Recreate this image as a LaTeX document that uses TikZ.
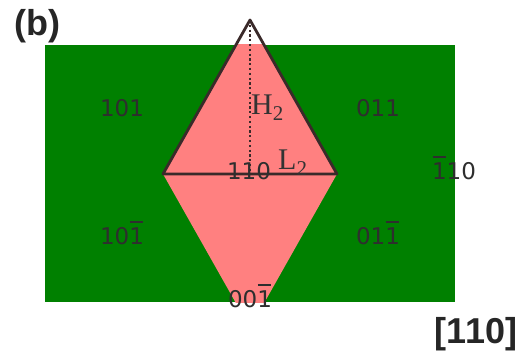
\documentclass[tikz,border=0pt]{standalone}
\usepackage{fontspec}
\setmainfont{Liberation Serif}
\newfontfamily\millerfont{DejaVu Sans}
\newfontfamily\panelfont{Liberation Sans}
\newcommand{\nbar}[1]{\ooalign{#1\cr\hidewidth\rule[0.97em]{0.58em}{0.07em}\hidewidth\cr}}
\definecolor{facegreen}{HTML}{008000}
\definecolor{facepink}{HTML}{FF8080}
\definecolor{edgedark}{HTML}{3A2A2A}

\begin{document}
\begin{tikzpicture}[x=1pt, y=-1pt,
    miller/.style={font=\millerfont\fontsize{23}{23}\selectfont, text=black!82, anchor=base, inner sep=0pt},
    panel/.style={font=\panelfont\bfseries\fontsize{36}{36}\selectfont, text=black!85, anchor=base, inner sep=0pt},
    length/.style={font=\fontsize{30}{30}\selectfont, text=black!80, anchor=base west, inner sep=0pt}]
    \useasboundingbox (0,0) rectangle (525,358);

    % corners of the facet
    \coordinate (apex) at (250,20);
    \coordinate (left) at (163,174);
    \coordinate (right) at (337,174);
    \coordinate (bottom) at (250,328);
    \coordinate (foot) at (250,174);

    % green face with the pink facet inside it
    \fill[facegreen] (45,45) rectangle (455,302);
    \begin{scope}
        \clip (45,45) rectangle (455,302);
        \fill[facepink] (apex) -- (left) -- (bottom) -- (right) -- cycle;
    \end{scope}

    % outline and height of the upper triangle
    \draw[edgedark, line width=2.8pt, line join=round] (left) -- (apex) -- (right) -- cycle;
    \draw[edgedark, line width=2.2pt, dash pattern=on 2.2pt off 2.6pt] (apex) -- (foot);

    % plane indices
    \node[miller] (p101) at (122,117) {101};
    \node[miller] (p011) at (378,117) {011};
    \node[miller] (p110) at (249,180) {110};
    \node[miller] (pm110) at (454,180) {\nbar{1}10};
    \node[miller] (p10m1) at (122,245) {10\nbar{1}};
    \node[miller] (p01m1) at (378,245) {01\nbar{1}};
    \node[miller] (p00m1) at (250,308) {00\nbar{1}};

    % lengths
    \node[length] (hlab) at (251,115) {H\textsubscript{2}};
    \node[length] (llab) at (278,170) {L\textsubscript{2}};

    % panel label and direction
    \node[panel] (tag) at (37,36) {(b)};
    \node[panel] (dir) at (476,343) {[110]};
\end{tikzpicture}
\end{document}
